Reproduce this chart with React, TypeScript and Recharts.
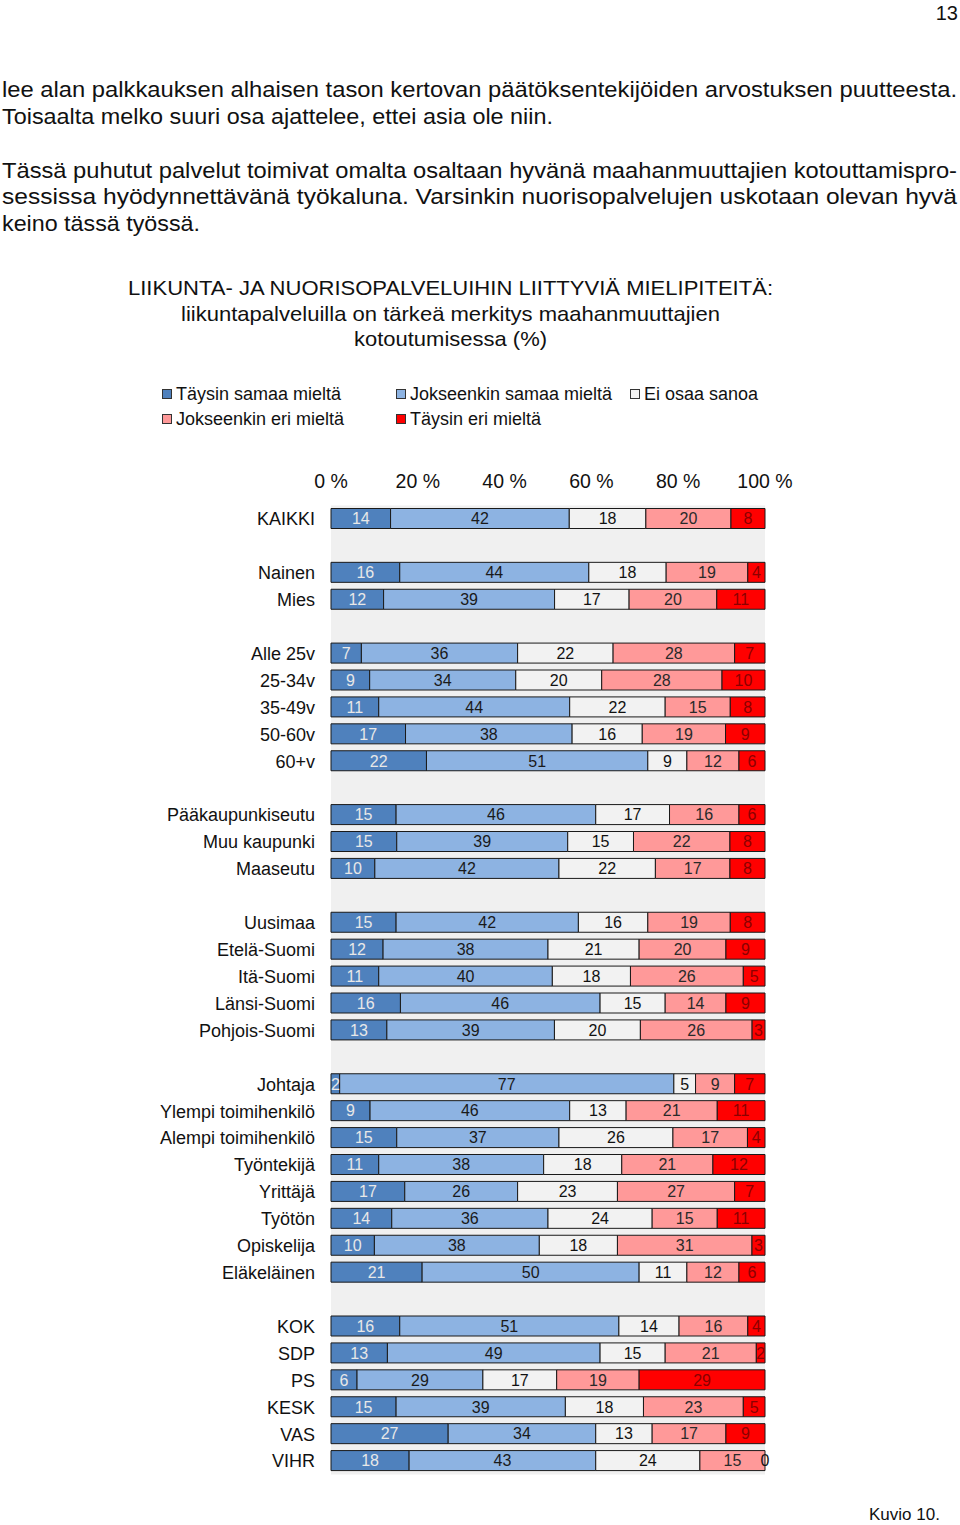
import React from 'react';
import { BarChart, Bar, XAxis, YAxis, CartesianGrid, LabelList, Legend } from 'recharts';

const categories = [
  "KAIKKI", "", "Nainen", "Mies", "", "Alle 25v", "25-34v", "35-49v", "50-60v", "60+v", "",
  "Pääkaupunkiseutu", "Muu kaupunki", "Maaseutu", "", "Uusimaa", "Etelä-Suomi", "Itä-Suomi",
  "Länsi-Suomi", "Pohjois-Suomi", "", "Johtaja", "Ylempi toimihenkilö", "Alempi toimihenkilö",
  "Työntekijä", "Yrittäjä", "Työtön", "Opiskelija", "Eläkeläinen", "", "KOK", "SDP", "PS",
  "KESK", "VAS", "VIHR",
];

const taysinSamaa = [14, null, 16, 12, null, 7, 9, 11, 17, 22, null, 15, 15, 10, null, 15, 12, 11, 16, 13, null, 2, 9, 15, 11, 17, 14, 10, 21, null, 16, 13, 6, 15, 27, 18];
const jokseenkinSamaa = [42, null, 44, 39, null, 36, 34, 44, 38, 51, null, 46, 39, 42, null, 42, 38, 40, 46, 39, null, 77, 46, 37, 38, 26, 36, 38, 50, null, 51, 49, 29, 39, 34, 43];
const eiOsaa = [18, null, 18, 17, null, 22, 20, 22, 16, 9, null, 17, 15, 22, null, 16, 21, 18, 15, 20, null, 5, 13, 26, 18, 23, 24, 18, 11, null, 14, 15, 17, 18, 13, 24];
const jokseenkinEri = [20, null, 19, 20, null, 28, 28, 15, 19, 12, null, 16, 22, 17, null, 19, 20, 26, 14, 26, null, 9, 21, 17, 21, 27, 15, 31, 12, null, 16, 21, 19, 23, 17, 15];
const taysinEri = [8, null, 4, 11, null, 7, 10, 8, 9, 6, null, 6, 8, 8, null, 8, 9, 5, 9, 3, null, 7, 11, 4, 12, 7, 11, 3, 6, null, 4, 2, 29, 5, 9, 0];

const xTicks = [0, 0.2, 0.4, 0.6, 0.8, 1];

const seriesNames = ["Täysin samaa mieltä", "Jokseenkin samaa mieltä", "Ei osaa sanoa", "Jokseenkin eri mieltä", "Täysin eri mieltä"];

const data = categories.map((label, i) => ({
  key: `r${i}`,
  label,
  ts: taysinSamaa[i],
  js: jokseenkinSamaa[i],
  eo: eiOsaa[i],
  je: jokseenkinEri[i],
  te: taysinEri[i],
}));

const FONT = '"Liberation Sans", Arial, Helvetica, sans-serif';

const series = [
  { key: 'ts', name: seriesNames[0], fill: '#4F81BD', text: '#E8E8E8' },
  { key: 'js', name: seriesNames[1], fill: '#8DB3E2', text: '#1A1A1A' },
  { key: 'eo', name: seriesNames[2], fill: '#F2F2F2', text: '#111111' },
  { key: 'je', name: seriesNames[3], fill: '#FF9999', text: '#2A2A2A' },
  { key: 'te', name: seriesNames[4], fill: '#FF0000', text: '#8B0000' },
];

const makeLabel = (color: string) => (props: any) => {
  const { x, y, width, height, value } = props;
  if (value === null || value === undefined) return null;
  return (
    <text
      x={Number(x) + Number(width) / 2}
      y={Number(y) + Number(height) / 2}
      dy="0.36em"
      textAnchor="middle"
      fill={color}
      fontSize={16}
      fontFamily={FONT}
    >
      {value}
    </text>
  );
};

// label for a zero-size last segment: drawn at the end of the preceding segment
const zeroEndLabel = (props: any) => {
  const { x, y, width, height, value } = props;
  if (value !== 0) return null;
  return (
    <text
      x={Number(x) + Number(width)}
      y={Number(y) + Number(height) / 2}
      dy="0.36em"
      textAnchor="middle"
      fill="#111"
      fontSize={16}
      fontFamily={FONT}
    >
      {value}
    </text>
  );
};

const renderLegend = (props: any) => {
  const payload = [...(props.payload || [])].sort(
    (a: any, b: any) => seriesNames.indexOf(a.value) - seriesNames.indexOf(b.value)
  );
  return (
    <div style={{ display: 'flex', flexWrap: 'wrap', width: 720, fontFamily: FONT, fontSize: 18, color: '#111' }}>
      {payload.map((p: any) => (
        <div key={p.value} style={{ width: 234, height: 25, display: 'flex', alignItems: 'center' }}>
          <span style={{ display: 'inline-block', width: 8, height: 8, border: '1px solid #333', background: p.color, marginRight: 4 }} />
          <span style={{ whiteSpace: 'nowrap' }}>{p.value}</span>
        </div>
      ))}
    </div>
  );
};

const bodyLines = [
  { text: 'lee alan palkkauksen alhaisen tason kertovan päätöksentekijöiden arvostuksen puutteesta.', y: 97, w: 955 },
  { text: 'Toisaalta melko suuri osa ajattelee, ettei asia ole niin.', y: 124, w: 551 },
  { text: 'Tässä puhutut palvelut toimivat omalta osaltaan hyvänä maahanmuuttajien kotouttamispro-', y: 178, w: 955 },
  { text: 'sessissa hyödynnettävänä työkaluna. Varsinkin nuorisopalvelujen uskotaan olevan hyvä', y: 204, w: 955 },
  { text: 'keino tässä työssä.', y: 231, w: 198 },
];

const titleLines = [
  { text: 'LIIKUNTA- JA NUORISOPALVELUIHIN LIITTYVIÄ MIELIPITEITÄ:', y: 295, w: 645 },
  { text: 'liikuntapalveluilla on tärkeä merkitys maahanmuuttajien', y: 321, w: 539 },
  { text: 'kotoutumisessa (%)', y: 346, w: 193 },
];

export default function App() {
  return (
    <div style={{ position: 'absolute', left: 0, top: 0, width: 960, height: 1525, background: '#fff', overflow: 'hidden' }}>
      <svg width={960} height={360} style={{ position: 'absolute', left: 0, top: 0 }}>
        <text x={958} y={20} textAnchor="end" fontSize={20} fontFamily={FONT} fill="#111">13</text>
        {bodyLines.map((l) => (
          <text key={l.y} x={2} y={l.y} fontSize={22} fontFamily={FONT} fill="#111" textLength={l.w} lengthAdjust="spacingAndGlyphs">
            {l.text}
          </text>
        ))}
        {titleLines.map((l) => (
          <text key={l.y} x={450.5} y={l.y} textAnchor="middle" fontSize={21} fontFamily={FONT} fill="#111" textLength={l.w} lengthAdjust="spacingAndGlyphs">
            {l.text}
          </text>
        ))}
      </svg>
      <div style={{ position: 'absolute', left: 0, top: 0 }}>
        <BarChart
          width={960}
          height={1525}
          data={data}
          layout="vertical"
          stackOffset="expand"
          barSize={20}
          margin={{ top: 475.5, right: 195, bottom: 50.5, left: 131 }}
        >
          <CartesianGrid horizontal={false} vertical={false} fill="#F0F0F0" stroke="none" />
          <XAxis
            type="number"
            orientation="top"
            domain={[0, 1]}
            ticks={xTicks}
            tickFormatter={(v: number) => `${Math.round(v * 100)} %`}
            axisLine={false}
            tickLine={false}
            tickSize={0}
            tickMargin={17.5}
            height={30}
            tick={{ fontSize: 19.5, fontFamily: FONT, fill: '#111' }}
          />
          <YAxis
            type="category"
            dataKey="key"
            width={200}
            interval={0}
            axisLine={false}
            tickLine={false}
            tickSize={0}
            tickMargin={16}
            tickFormatter={(v: string, i: number) => categories[i] ?? ''}
            tick={{ fontSize: 18, fontFamily: FONT, fill: '#111' }}
          />
          <Legend
            content={renderLegend}
            layout="horizontal"
            verticalAlign="middle"
            align="center"
            wrapperStyle={{ position: 'absolute', left: 162, top: 381.5, width: 720, height: 50 }}
          />
          {series.map((s) => (
            <Bar key={s.key} dataKey={s.key} name={s.name} stackId="a" fill={s.fill} stroke="#1A1A1A" strokeWidth={1} isAnimationActive={false}>
              <LabelList dataKey={s.key} content={makeLabel(s.text)} />
              {s.key === 'je' ? <LabelList dataKey="te" content={zeroEndLabel} /> : null}
            </Bar>
          ))}
        </BarChart>
      </div>
      <div style={{ position: 'absolute', left: 869, top: 1505, fontFamily: FONT, fontSize: 17, color: '#111', whiteSpace: 'nowrap', lineHeight: '20px' }}>
        Kuvio 10.
      </div>
    </div>
  );
}
